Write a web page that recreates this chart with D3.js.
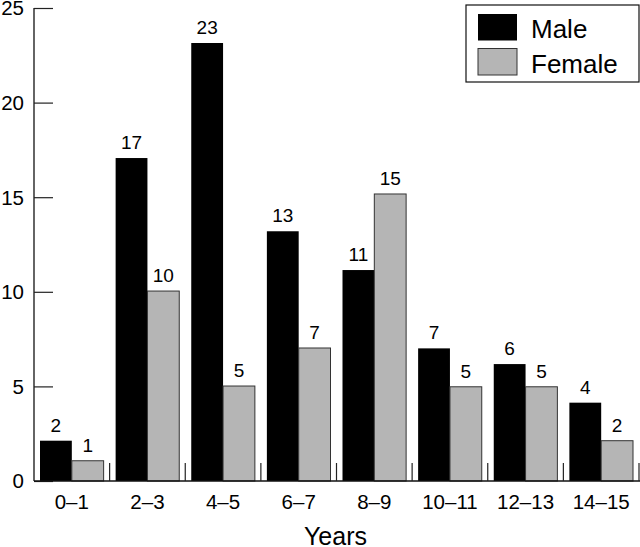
<!DOCTYPE html>
<html>
<head>
<meta charset="utf-8">
<script src="https://cdn.jsdelivr.net/npm/d3@7"></script>
<style>
  html, body { margin: 0; padding: 0; background: #fff; }
  svg { display: block; font-family: "Liberation Sans", Arial, Helvetica, sans-serif; }
</style>
</head>
<body>
<svg id="chart" width="640" height="547"></svg>
<script>
const categories = ["0\u20131", "2\u20133", "4\u20135", "6\u20137", "8\u20139", "10\u201311", "12\u201313", "14\u201315"];
const maleValues = [2.13, 17.07, 23.15, 13.2, 11.15, 7.01, 6.18, 4.14];
const femaleValues = [1.07, 10.04, 5.02, 7.03, 15.17, 4.98, 4.98, 2.13];
const maleLabels = [2, 17, 23, 13, 11, 7, 6, 4];
const femaleLabels = [1, 10, 5, 7, 15, 5, 5, 2];
const seriesNames = ["Male", "Female"];
const yTicks = [0, 5, 10, 15, 20, 25];
const xTitle = "Years";

(function () {
const svg = d3.select("#chart");
const pLeft = 34, pRight = 639, pTop = 8, pBottom = 481;

const x = d3.scaleBand().domain(categories).range([pLeft, pRight]).paddingInner(0).paddingOuter(0);
const sub = d3.scaleBand().domain(seriesNames).range([6, x.bandwidth() - 6]).padding(0);
const y = d3.scaleLinear().domain([0, 25]).range([pBottom, pTop]);

const colors = { Male: "#000000", Female: "#b5b5b5" };

const data = categories.map((c, i) => ({
  cat: c,
  bars: [
    { name: "Male", value: maleValues[i], label: maleLabels[i] },
    { name: "Female", value: femaleValues[i], label: femaleLabels[i] }
  ]
}));

// bars
const groups = svg.append("g").selectAll("g").data(data).join("g")
  .attr("transform", d => `translate(${x(d.cat)},0)`);

groups.selectAll("rect").data(d => d.bars).join("rect")
  .attr("x", d => sub(d.name))
  .attr("width", sub.bandwidth())
  .attr("y", d => y(d.value))
  .attr("height", d => y(0) - y(d.value))
  .attr("fill", d => colors[d.name])
  .attr("stroke", d => d.name === "Female" ? "#333" : "none")
  .attr("stroke-width", 1);

groups.selectAll("text.val").data(d => d.bars).join("text")
  .attr("class", "val")
  .attr("x", d => sub(d.name) + sub.bandwidth() / 2)
  .attr("y", d => y(d.value) - 9)
  .attr("text-anchor", "middle")
  .attr("font-size", 19)
  .attr("fill", "#000")
  .text(d => d.label);

// y axis
const yAxis = d3.axisRight(y).tickValues(yTicks).tickSize(19).tickFormat("");
const yg = svg.append("g").attr("transform", `translate(${pLeft},0)`).call(yAxis);
yg.select(".domain").attr("stroke", "#111").attr("stroke-width", 1.3).attr("d", `M0,${pTop}V${pBottom}`);
yg.selectAll(".tick line").attr("stroke", "#222").attr("stroke-width", 1.2);

svg.append("g").selectAll("text").data(yTicks).join("text")
  .attr("x", 24)
  .attr("y", d => y(d))
  .attr("dy", "0.36em")
  .attr("text-anchor", "end")
  .attr("font-size", 20.5)
  .attr("fill", "#000")
  .text(d => d);

// x baseline
svg.append("line")
  .attr("x1", pLeft).attr("x2", 640)
  .attr("y1", pBottom).attr("y2", pBottom)
  .attr("stroke", "#111").attr("stroke-width", 1.3);

// group divider ticks
svg.append("g").selectAll("line").data(categories).join("line")
  .attr("x1", d => x(d) + x.bandwidth())
  .attr("x2", d => x(d) + x.bandwidth())
  .attr("y1", pBottom - 18).attr("y2", pBottom)
  .attr("stroke", "#222").attr("stroke-width", 1.2);

// x tick labels
svg.append("g").selectAll("text").data(categories).join("text")
  .attr("x", d => x(d) + x.bandwidth() / 2)
  .attr("y", 508.5)
  .attr("text-anchor", "middle")
  .attr("font-size", 20.5)
  .attr("fill", "#000")
  .text(d => d);

// x title
svg.append("text")
  .attr("x", (pLeft + pRight) / 2 - 1)
  .attr("y", 545)
  .attr("text-anchor", "middle")
  .attr("font-size", 25)
  .attr("fill", "#000")
  .text(xTitle);

// legend
const lg = svg.append("g");
lg.append("rect")
  .attr("x", 466).attr("y", 5).attr("width", 173).attr("height", 77)
  .attr("fill", "#fff").attr("stroke", "#111").attr("stroke-width", 1.2);
const legendItems = seriesNames.map((n, i) => ({ name: n, i }));
lg.selectAll("rect.sw").data(legendItems).join("rect")
  .attr("class", "sw")
  .attr("x", 478).attr("y", d => 14 + d.i * 34.5)
  .attr("width", 39).attr("height", 26.5)
  .attr("fill", d => colors[d.name])
  .attr("stroke", d => d.name === "Female" ? "#333" : "none")
  .attr("stroke-width", 1);
lg.selectAll("text").data(legendItems).join("text")
  .attr("x", 531)
  .attr("y", d => 37.5 + d.i * 35.5)
  .attr("font-size", 26)
  .attr("fill", "#000")
  .text(d => d.name);
})();
</script>
</body>
</html>
